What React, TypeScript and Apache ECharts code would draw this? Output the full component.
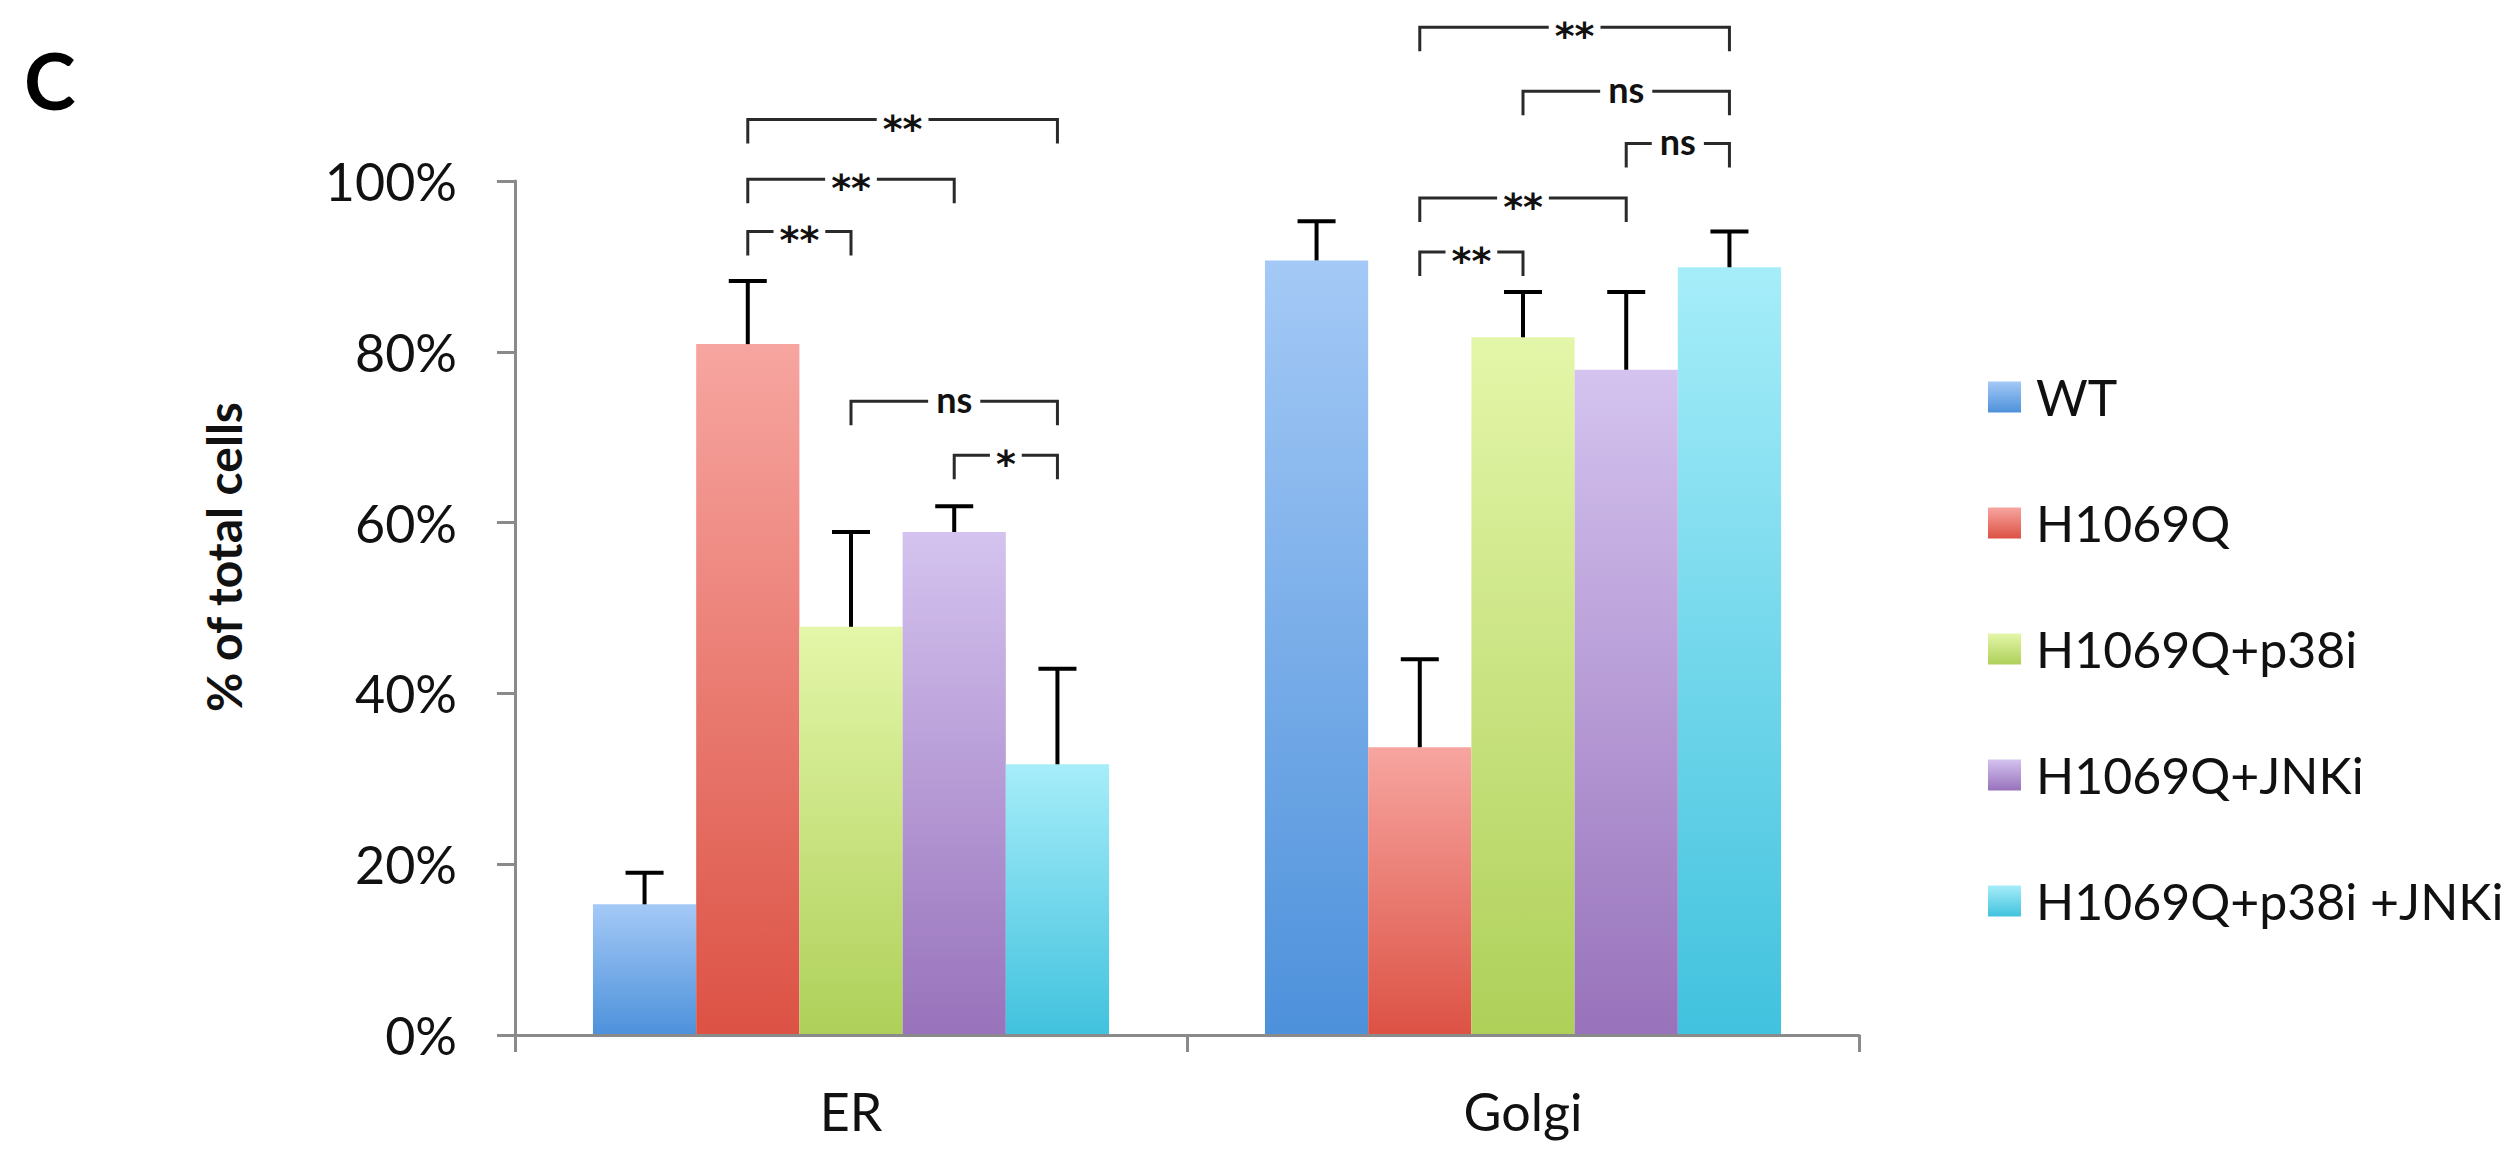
import React, { useEffect, useRef } from "react";
import * as echarts from "echarts";

// ---- data ----
const categories = ["ER", "Golgi"];
const seriesNames = ["WT", "H1069Q", "H1069Q+p38i", "H1069Q+JNKi", "H1069Q+p38i +JNKi"];

const wtValues = [15.3, 90.7];
const h1069qValues = [80.9, 33.7];
const p38iValues = [47.8, 81.7];
const jnkiValues = [58.9, 77.9];
const comboValues = [31.7, 89.9];

const wtErr = [3.7, 4.6];
const h1069qErr = [7.4, 10.3];
const p38iErr = [11.1, 5.3];
const jnkiErr = [3.0, 9.1];
const comboErr = [11.2, 4.2];

const yTicks = [0, 20, 40, 60, 80, 100];

// significance brackets: category index, from series, to series, level (%), label
const bracketCategory = [0, 0, 0, 0, 0, 1, 1, 1, 1, 1];
const bracketFrom = [1, 1, 1, 2, 3, 1, 2, 3, 1, 1];
const bracketTo = [4, 3, 2, 4, 4, 4, 4, 4, 3, 2];
const bracketLevel = [107.2, 100.2, 94.1, 74.2, 67.9, 118.0, 110.5, 104.4, 98.0, 91.7];
const bracketLabel = ["**", "**", "**", "ns", "*", "**", "ns", "ns", "**", "**"];

// ---- styles ----
const topColors = ["#a4c9f6", "#f7a5a0", "#e4f6a9", "#d4c3ef", "#a6edf9"];
const bottomColors = ["#4d91db", "#dc5244", "#aed059", "#9872bb", "#41c2de"];
const CAT_GAP = 0.232;
const FONT = "Lato";

const allValues = [wtValues, h1069qValues, p38iValues, jnkiValues, comboValues];
const allErrs = [wtErr, h1069qErr, p38iErr, jnkiErr, comboErr];

function barCenter(api: any, cat: number, s: number, y: number) {
  const pt = api.coord([cat, y]);
  const band = api.size([1, 0])[0];
  const total = band * (1 - CAT_GAP);
  const bw = total / seriesNames.length;
  return [pt[0] - total / 2 + (s + 0.5) * bw, pt[1]];
}

export default function App() {
  const ref = useRef<HTMLDivElement>(null);

  useEffect(() => {
    if (!ref.current) return;
    const chart = echarts.init(ref.current, null, { renderer: "svg" });

    const barSeries = seriesNames.map((name, i) => ({
      type: "bar",
      name,
      data: allValues[i],
      barGap: "0%",
      barCategoryGap: (CAT_GAP * 100).toFixed(1) + "%",
      itemStyle: {
        color: new echarts.graphic.LinearGradient(0, 0, 0, 1, [
          { offset: 0, color: topColors[i] },
          { offset: 1, color: bottomColors[i] },
        ]),
      },
      z: 2,
    }));

    const errData: any[] = [];
    allValues.forEach((vals, s) => {
      vals.forEach((v, c) => {
        errData.push([c, v + allErrs[s][c], s, v]);
      });
    });

    const bracketData = bracketCategory.map((c, i) => [c, bracketLevel[i], bracketFrom[i], bracketTo[i]]);

    const option: any = {
      animation: false,
      backgroundColor: "#ffffff",
      title: {
        text: "C",
        left: 19,
        top: 36,
        textStyle: { fontSize: 78, fontWeight: "bold", fontFamily: FONT, color: "#000" },
      },
      legend: {
        orient: "vertical",
        left: 1983,
        top: 366,
        itemWidth: 33,
        itemHeight: 31,
        itemGap: 74,
        icon: "rect",
        data: seriesNames,
        textStyle: { fontSize: 50, lineHeight: 52, fontFamily: FONT, color: "#111", padding: [0, 0, 0, 10] },
      },
      grid: { left: 515, right: 661, top: 181, bottom: 118 },
      xAxis: {
        type: "category",
        data: categories,
        axisLine: { show: true, lineStyle: { color: "#8a8a8a", width: 3 } },
        axisTick: { show: true, length: 17, lineStyle: { color: "#8a8a8a", width: 3 } },
        axisLabel: { fontSize: 52, fontFamily: FONT, color: "#111", margin: 50 },
        z: 5,
      },
      yAxis: {
        type: "value",
        min: yTicks[0],
        max: yTicks[yTicks.length - 1],
        interval: yTicks[1] - yTicks[0],
        splitLine: { show: false },
        axisLine: { show: true, lineStyle: { color: "#8a8a8a", width: 3 } },
        axisTick: { show: true, length: 18, lineStyle: { color: "#8a8a8a", width: 3 } },
        axisLabel: { formatter: "{value}%", fontSize: 52, fontFamily: FONT, color: "#111", margin: 58, padding: [12, 0, 0, 0] },
      },
      graphic: [
        {
          type: "text",
          x: 223,
          y: 557,
          rotation: Math.PI / 2,
          style: {
            text: "% of total cells",
            font: `bold 48px ${FONT}`,
            fill: "#111",
            textAlign: "center",
            textVerticalAlign: "middle",
            align: "center",
            verticalAlign: "middle",
          },
        },
      ],
      series: [
        ...barSeries,
        {
          type: "custom",
          name: "errors",
          data: errData,
          encode: { x: 0, y: 1 },
          clip: false,
          z: 10,
          renderItem: (params: any, api: any) => {
            const cat = api.value(0);
            const hi = api.value(1);
            const s = api.value(2);
            const v = api.value(3);
            const [x, yTop] = barCenter(api, cat, s, hi);
            const [, yBase] = barCenter(api, cat, s, v);
            return {
              type: "group",
              children: [
                { type: "line", shape: { x1: x, y1: yBase, x2: x, y2: yTop }, style: { stroke: "#000", lineWidth: 4 } },
                { type: "line", shape: { x1: x - 19, y1: yTop, x2: x + 19, y2: yTop }, style: { stroke: "#000", lineWidth: 4 } },
              ],
            };
          },
        },
        {
          type: "custom",
          name: "brackets",
          data: bracketData,
          encode: { x: 0, y: 1 },
          clip: false,
          z: 11,
          renderItem: (params: any, api: any) => {
            const cat = api.value(0);
            const level = api.value(1);
            const from = api.value(2);
            const to = api.value(3);
            const [x1, y] = barCenter(api, cat, from, level);
            const [x2] = barCenter(api, cat, to, level);
            const label = bracketLabel[params.dataIndex];
            const isStar = label.indexOf("*") >= 0;
            return {
              type: "group",
              children: [
                {
                  type: "polyline",
                  shape: { points: [[x1, y + 24], [x1, y], [x2, y], [x2, y + 24]] },
                  style: { stroke: "#2a2a2a", lineWidth: 3, fill: "none" },
                },
                {
                  type: "text",
                  x: (x1 + x2) / 2,
                  y: isStar ? y + 9 : y - 2,
                  style: {
                    text: label,
                    font: isStar ? `bold 38px "DejaVu Sans"` : `bold 36px ${FONT}`,
                    fill: "#111",
                    align: "center",
                    verticalAlign: "middle",
                    backgroundColor: "#ffffff",
                    padding: isStar ? [0, 6] : [0, 8],
                  },
                },
              ],
            };
          },
        },
      ],
    };

    chart.setOption(option);
    return () => chart.dispose();
  }, []);

  return (
    <div
      ref={ref}
      style={{ position: "fixed", left: 0, top: 0, width: 2520, height: 1153, background: "#fff" }}
    />
  );
}
